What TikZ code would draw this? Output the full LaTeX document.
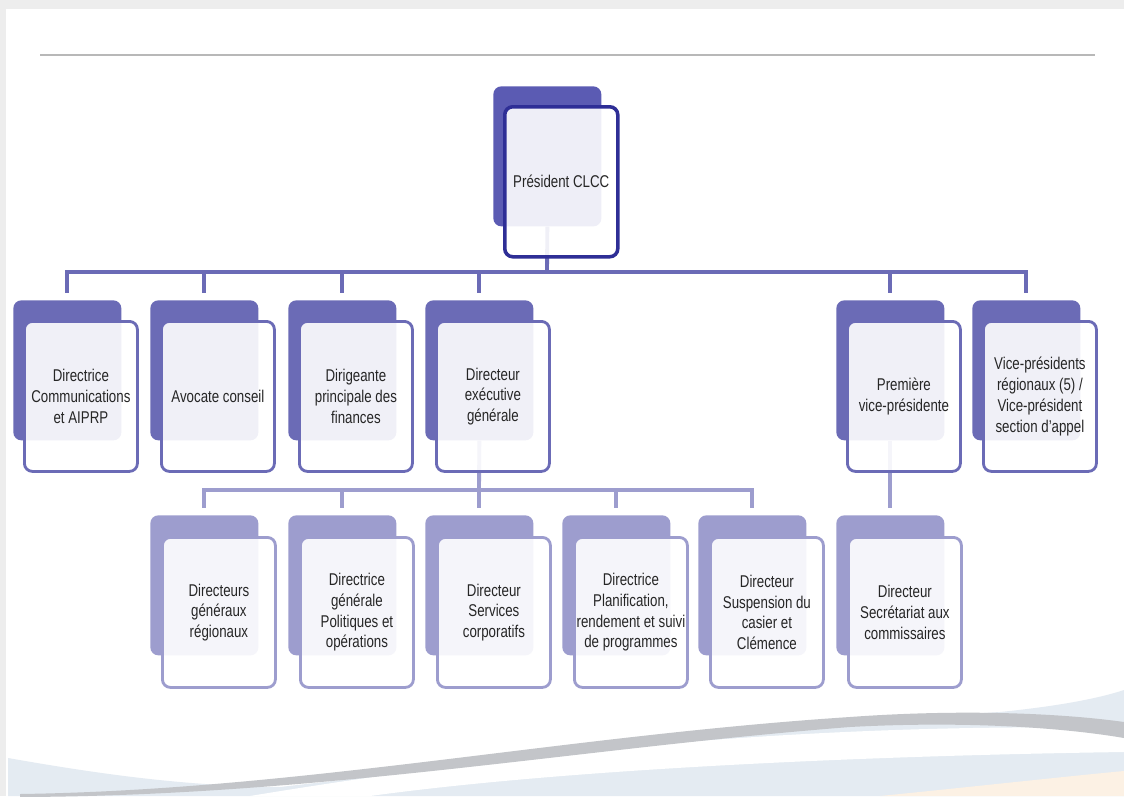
\documentclass[tikz,border=0pt]{standalone}
\usepackage{fontspec}
\setmainfont{Liberation Sans}[FakeStretch=0.78]
\usetikzlibrary{backgrounds}
\definecolor{topfill}{HTML}{5B5BB3}
\definecolor{topline}{HTML}{2E2E96}
\definecolor{midfill}{HTML}{6B6BB6}
\definecolor{lowfill}{HTML}{9D9DCE}
\definecolor{paleblue}{HTML}{E4EBF2}
\definecolor{peach}{HTML}{FCF1E4}
\definecolor{swoosh}{HTML}{C3C5C9}
\begin{document}
\begin{tikzpicture}[x=0.2mm,y=-0.2mm,
  back/.style={rounded corners=1.6mm, minimum width=21.6mm, minimum height=28mm,
    anchor=north west, inner sep=0pt},
  front/.style={rounded corners=1.6mm, minimum width=22.6mm, minimum height=30mm,
    anchor=north west, inner sep=1pt, fill=white, fill opacity=0.9, text opacity=1,
    line width=1.6pt, align=center, text=black!85,
    font={\fontsize{9.7pt}{11.8pt}\selectfont}},
  topback/.style={back, fill=topfill},
  topfront/.style={front, draw=topline, line width=2pt},
  midback/.style={back, fill=midfill},
  midfront/.style={front, draw=midfill},
  lowback/.style={back, fill=lowfill},
  lowfront/.style={front, draw=lowfill},
  midline/.style={draw=midfill, line width=2.2pt},
  lowline/.style={draw=lowfill, line width=2.2pt}]
\useasboundingbox (0,0) rectangle (1124,796);

\node[topback] (pres-b) at (493,86) {};
\node[topfront] (pres) at ([shift={(10,19)}]pres-b.north west) {Président CLCC};

\node[midback] (comm-b) at (13,300) {};
\node[midfront] (comm) at ([shift={(10,20)}]comm-b.north west) {Directrice\\Communications\\et AIPRP};
\node[midback] (avoc-b) at (150,300) {};
\node[midfront] (avoc) at ([shift={(10,20)}]avoc-b.north west) {Avocate conseil};
\node[midback] (fin-b) at (288,300) {};
\node[midfront] (fin) at ([shift={(10,20)}]fin-b.north west) {Dirigeante\\principale des\\finances};
\node[midback] (dex-b) at (425,300) {};
\node[midfront] (dex) at ([shift={(10,20)}]dex-b.north west) {Directeur\\exécutive\\générale};
\node[midback] (pvp-b) at (836,300) {};
\node[midfront] (pvp) at ([shift={(10,20)}]pvp-b.north west) {Première\\vice-présidente};
\node[midback] (vpr-b) at (972,300) {};
\node[midfront] (vpr) at ([shift={(10,20)}]vpr-b.north west) {Vice-présidents\\régionaux (5) /\\Vice-président\\section d'appel};

\node[lowback] (dgr-b) at (150,515) {};
\node[lowfront] (dgr) at ([shift={(11,21)}]dgr-b.north west) {Directeurs\\généraux\\régionaux};
\node[lowback] (dgpo-b) at (288,515) {};
\node[lowfront] (dgpo) at ([shift={(11,21)}]dgpo-b.north west) {Directrice\\générale\\Politiques et\\opérations};
\node[lowback] (dsc-b) at (425,515) {};
\node[lowfront] (dsc) at ([shift={(11,21)}]dsc-b.north west) {Directeur\\Services\\corporatifs};
\node[lowback] (dpr-b) at (562,515) {};
\node[lowfront] (dpr) at ([shift={(11,21)}]dpr-b.north west) {Directrice\\Planification,\\rendement et suivi\\de programmes};
\node[lowback] (dsca-b) at (698,515) {};
\node[lowfront] (dsca) at ([shift={(11,21)}]dsca-b.north west) {Directeur\\Suspension du\\casier et\\Clémence};
\node[lowback] (dsec-b) at (836,515) {};
\node[lowfront] (dsec) at ([shift={(11,21)}]dsec-b.north west) {Directeur\\Secrétariat aux\\commissaires};

\begin{scope}[on background layer]
\fill[black!7] (0,0) rectangle (1124,796);
\fill[white] (6,9) rectangle (1124,796);
\draw[black!28, line width=0.5mm] (40,55) -- (1095,55);
\fill[paleblue] (8,758) .. controls (110,776) and (190,786) .. (280,787)
  .. controls (560,755) and (830,722) .. (1000,712)
  .. controls (1060,706) and (1100,698) .. (1124,690) -- (1124,796) -- (8,796) -- cycle;
\fill[white] (250,796) .. controls (480,758) and (780,722) .. (1124,728)
  -- (1124,752) .. controls (850,756) and (560,770) .. (370,796) -- cycle;
\fill[peach] (880,796) .. controls (980,786) and (1060,777) .. (1124,771) -- (1124,796) -- cycle;
\fill[swoosh] (20,794) .. controls (300,790) and (560,736) .. (850,717)
  .. controls (960,709) and (1060,713) .. (1124,722)
  -- (1124,738) .. controls (1060,727) and (960,721) .. (850,727)
  .. controls (580,748) and (320,796) .. (20,797) -- cycle;

\coordinate (bus1) at (547,272);
\draw[midline] (pres-b.south) -- (bus1);
\foreach \n in {comm,avoc,fin,dex,pvp,vpr}
  \draw[midline, shorten >=1.4mm] (bus1) -| (\n-b.north);
\coordinate (bus2) at (479,490);
\draw[lowline] (dex-b.south) -- (bus2);
\foreach \n in {dgr,dgpo,dsc,dpr,dsca}
  \draw[lowline, shorten >=1.4mm] (bus2) -| (\n-b.north);
\draw[lowline, shorten >=1.4mm] (pvp-b.south) -- (dsec-b.north);
\end{scope}
\end{tikzpicture}
\end{document}
